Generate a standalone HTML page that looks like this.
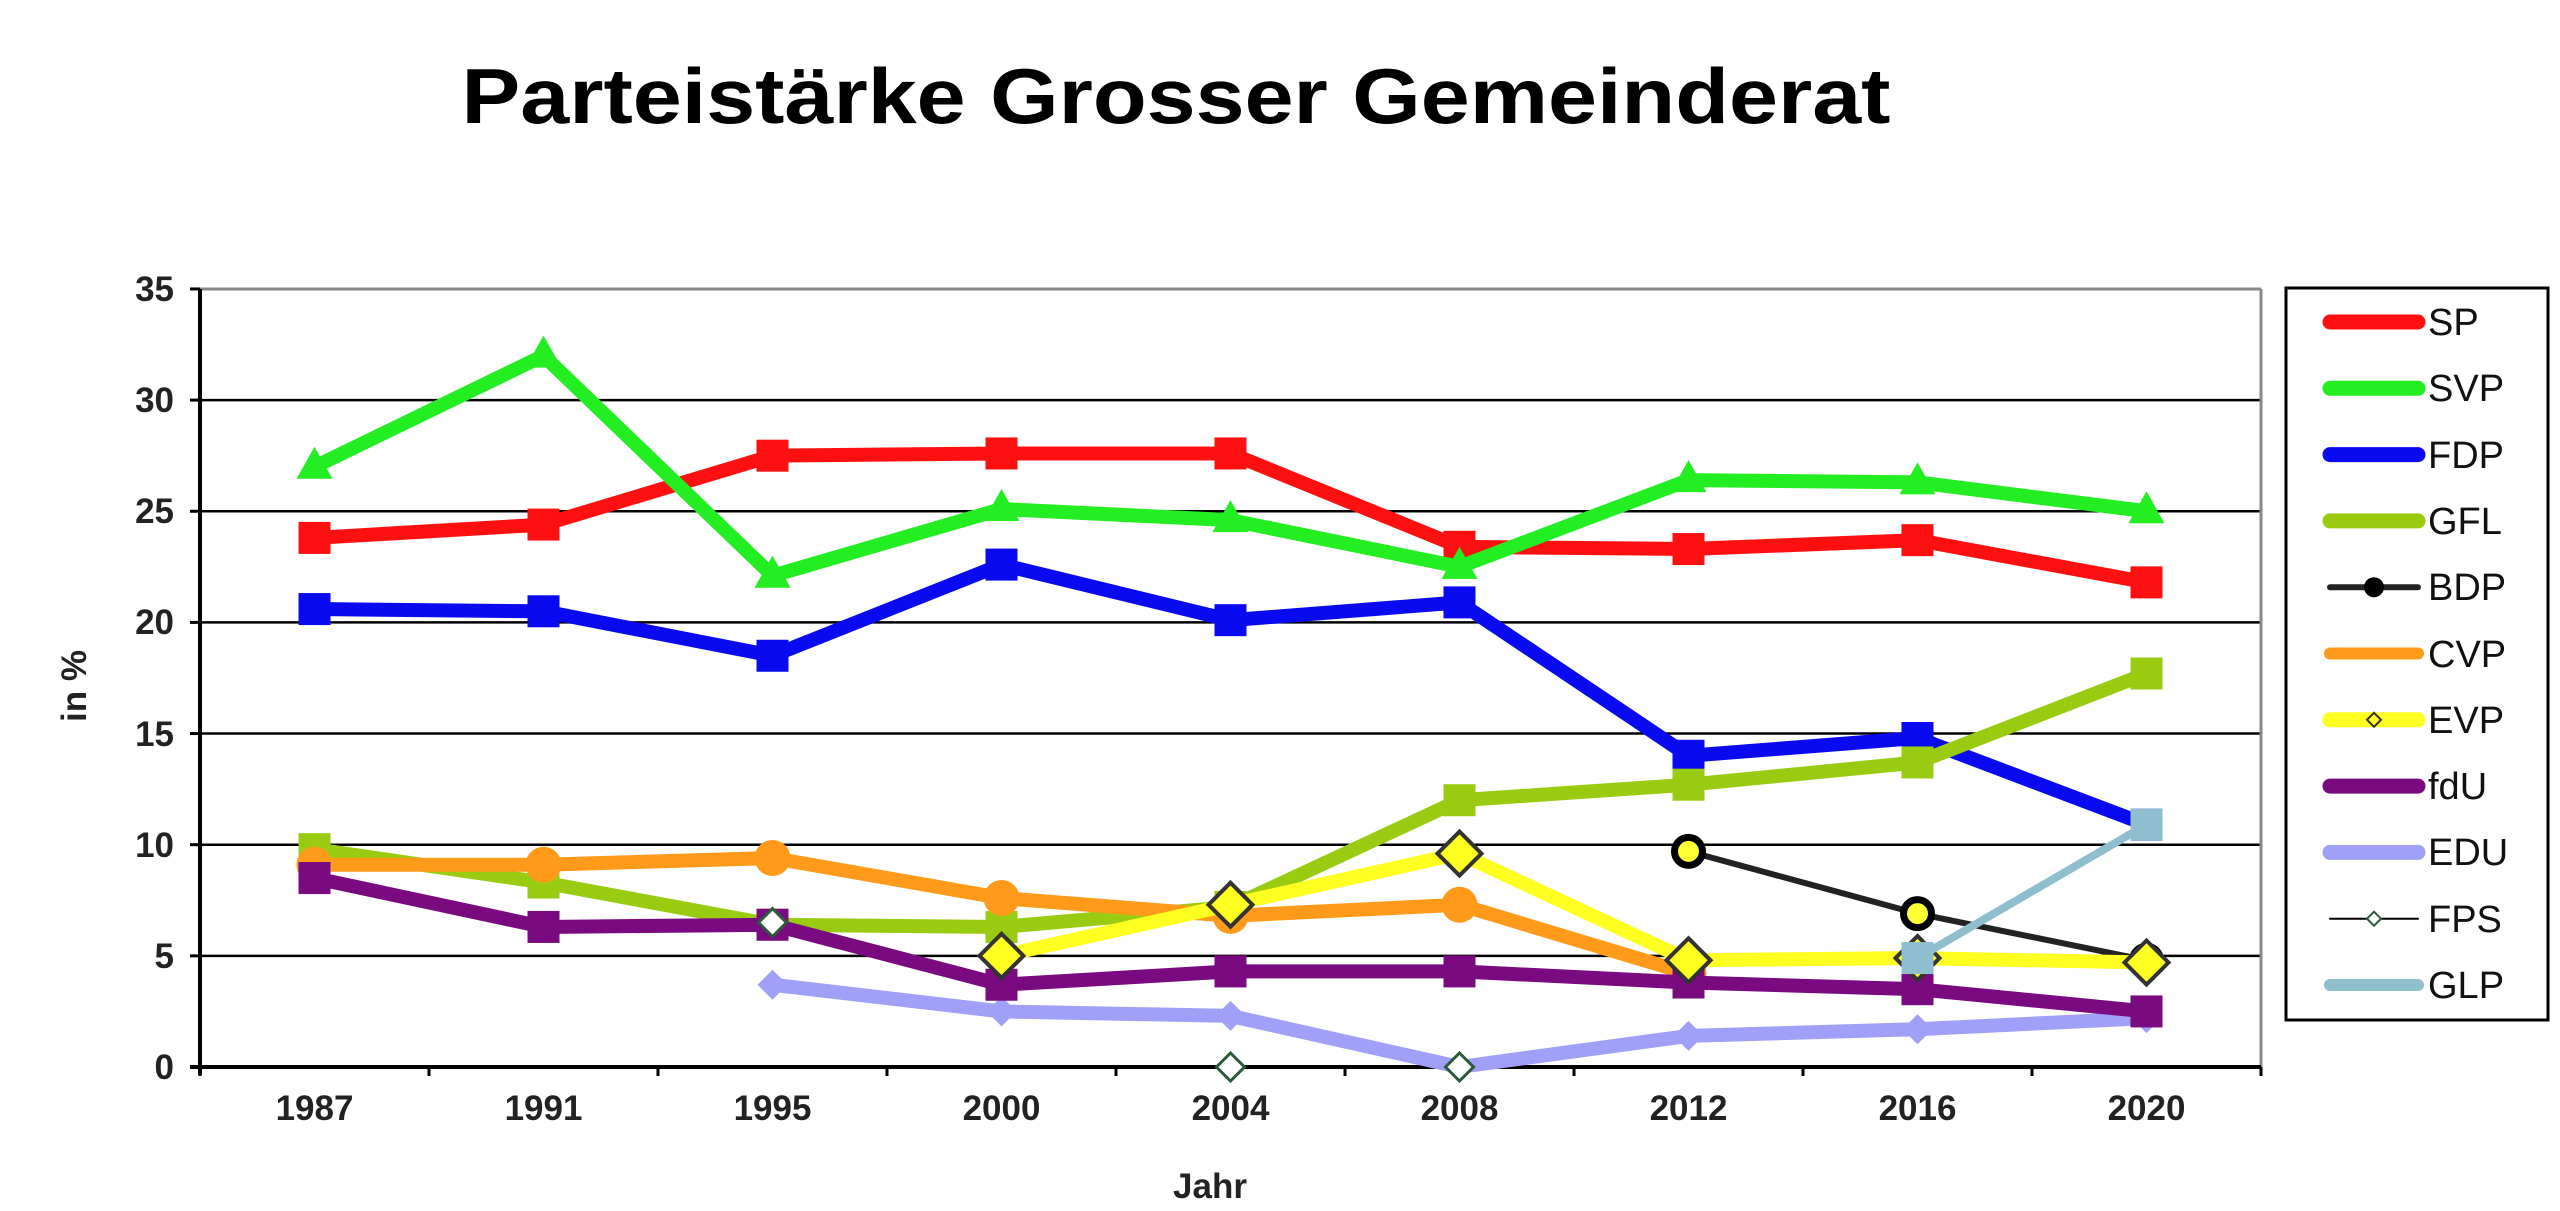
<!DOCTYPE html>
<html><head><meta charset="utf-8"><style>
html,body{margin:0;padding:0;background:#fff;}
svg{display:block;font-family:"Liberation Sans",Arial,sans-serif;}
</style></head><body>
<svg id="s" width="2560" height="1211" viewBox="0 0 2560 1211" xmlns="http://www.w3.org/2000/svg">
<rect width="2560" height="1211" fill="#fff"/>
<text x="1176" y="123" text-anchor="middle" font-size="78" font-weight="bold" textLength="1429" lengthAdjust="spacingAndGlyphs">Parteistärke Grosser Gemeinderat</text>
<g id="grid"></g>
<g font-size="35" font-weight="bold" text-anchor="end" fill="#222">
<text x="174" y="301">35</text>
<text x="174" y="412">30</text><text x="174" y="523">25</text><text x="174" y="634">20</text>
<text x="174" y="746">15</text><text x="174" y="857">10</text><text x="174" y="968">5</text><text x="174" y="1079">0</text>
</g>
<g font-size="35" font-weight="bold" text-anchor="middle" fill="#222">
<text x="314.5" y="1120">1987</text><text x="543.5" y="1120">1991</text><text x="772.5" y="1120">1995</text>
<text x="1001.5" y="1120">2000</text><text x="1230.5" y="1120">2004</text><text x="1459.5" y="1120">2008</text>
<text x="1688.5" y="1120">2012</text><text x="1917.5" y="1120">2016</text><text x="2146.5" y="1120">2020</text>
<text x="1210" y="1198">Jahr</text>
<text transform="translate(86,686) rotate(-90)">in %</text>
</g>
<g id="series"></g>
<rect x="2286" y="288" width="262" height="732" fill="none" stroke="#000" stroke-width="3"/>
<g id="leg"></g>
<g font-size="38" fill="#111">
<text x="2428" y="335">SP</text><text x="2428" y="401">SVP</text><text x="2428" y="468">FDP</text>
<text x="2428" y="534">GFL</text><text x="2428" y="600">BDP</text><text x="2428" y="667">CVP</text>
<text x="2428" y="733">EVP</text><text x="2428" y="799">fdU</text><text x="2428" y="865">EDU</text>
<text x="2428" y="932">FPS</text><text x="2428" y="998">GLP</text>
</g>
</svg>
<script>
const NS="http://www.w3.org/2000/svg";
const X=i=>314.5+229*i, Y=v=>1067-22.23*v;
function el(p,t,a){const e=document.createElementNS(NS,t);for(const k in a)e.setAttribute(k,a[k]);p.appendChild(e);return e;}
const g=document.getElementById('grid');
for(let v=5;v<=30;v+=5)el(g,'line',{x1:200,x2:2261,y1:Y(v),y2:Y(v),stroke:'#000','stroke-width':2.5});
el(g,'line',{x1:200,x2:2261,y1:Y(35),y2:Y(35),stroke:'#888','stroke-width':3});
el(g,'line',{x1:2261,x2:2261,y1:Y(35),y2:Y(0),stroke:'#888','stroke-width':3});
el(g,'line',{x1:200,x2:200,y1:Y(35),y2:Y(0)+8,stroke:'#000','stroke-width':4});
el(g,'line',{x1:190,x2:2261,y1:Y(0),y2:Y(0),stroke:'#000','stroke-width':4});
for(let v=0;v<=35;v+=5)el(g,'line',{x1:190,x2:200,y1:Y(v),y2:Y(v),stroke:'#000','stroke-width':3});
for(let i=0;i<=9;i++)el(g,'line',{x1:200+229*i,x2:200+229*i,y1:Y(0),y2:Y(0)+9,stroke:'#000','stroke-width':3});
const N=null;
const S=[
 ['SP','#ff1010','sq',[23.8,24.4,27.5,27.6,27.6,23.4,23.3,23.7,21.8],14],
 ['SVP','#22ee22','tri',[27.0,32.0,22.1,25.1,24.6,22.5,26.4,26.3,25.0],14],
 ['FDP','#0a0af0','sq',[20.6,20.5,18.5,22.6,20.1,20.9,14.0,14.8,10.9],14],
 ['GFL','#99cc11','sq',[9.8,8.3,6.4,6.3,7.2,12.0,12.7,13.7,17.7],14],
 ['CVP','#ff9a1a','circ',[9.1,9.1,9.4,7.6,6.8,7.3,4.2,N,N],14],
 ['BDP','#222','bdp',[N,N,N,N,N,N,9.7,6.9,4.8],6],
 ['EDU','#a0a0f8','dia',[N,N,3.7,2.5,2.3,0.0,1.4,1.7,2.2],14],
 ['fdU','#7a0a80','sq',[8.5,6.3,6.4,3.7,4.3,4.3,3.8,3.5,2.5],14],
 ['EVP','#ffff22','evp',[N,N,N,5.0,7.3,9.6,4.8,4.9,4.7],14],
 ['GLP','#8fbfcf','sq',[N,N,N,N,N,N,N,4.9,10.9],8],
 ['FPS','#000','fps',[N,N,6.5,N,0,0,N,N,N],0],
];
const sg=document.getElementById('series');
function marker(p,type,c,x,y){
 if(type==='sq')el(p,'rect',{x:x-16,y:y-16,width:32,height:32,fill:c});
 else if(type==='tri')el(p,'polygon',{points:`${x},${y-20} ${x+18},${y+12} ${x-18},${y+12}`,fill:c});
 else if(type==='circ')el(p,'circle',{cx:x,cy:y,r:18,fill:c});
 else if(type==='bdp')el(p,'circle',{cx:x,cy:y,r:14,fill:'#ffff33',stroke:'#000','stroke-width':7});
 else if(type==='dia')el(p,'polygon',{points:`${x},${y-15} ${x+15},${y} ${x},${y+15} ${x-15},${y}`,fill:c});
 else if(type==='evp')el(p,'polygon',{points:`${x},${y-22} ${x+22},${y} ${x},${y+22} ${x-22},${y}`,fill:c,stroke:'#333','stroke-width':4});
 else if(type==='fps')el(p,'polygon',{points:`${x},${y-14} ${x+14},${y} ${x},${y+14} ${x-14},${y}`,fill:'#fff',stroke:'#2a5a3a','stroke-width':3});
}
for(const [n,c,t,d,w] of S){
 if(w>0){let pts=[];d.forEach((v,i)=>{if(v!==null)pts.push(X(i)+','+Y(v));});
  el(sg,'polyline',{points:pts.join(' '),fill:'none',stroke:c,'stroke-width':w,'stroke-linejoin':'round'});}
 d.forEach((v,i)=>{if(v!==null)marker(sg,t,c,X(i),Y(v));});
}
const lg=document.getElementById('leg');
const L=[['#ff1010',15,'n'],['#22ee22',15,'n'],['#0a0af0',15,'n'],['#99cc11',15,'n'],['#222',6,'b'],['#ff9a1a',12,'n'],['#ffff22',15,'e'],['#7a0a80',15,'n'],['#a0a0f8',15,'n'],['#000',2,'f'],['#8fbfcf',12,'n']];
L.forEach(([c,w,m],k)=>{const y=322+66.3*k;
 el(lg,'line',{x1:2330,x2:2418,y1:y,y2:y,stroke:c,'stroke-width':w,'stroke-linecap':'round'});
 if(m==='b')el(lg,'circle',{cx:2374,cy:y,r:10,fill:'#000'});
 if(m==='e')el(lg,'polygon',{points:`2374,${y-7} 2381,${y} 2374,${y+7} 2367,${y}`,fill:'#ffff22',stroke:'#333','stroke-width':2});
 if(m==='f')el(lg,'polygon',{points:`2374,${y-7} 2381,${y} 2374,${y+7} 2367,${y}`,fill:'#fff',stroke:'#2a5a3a','stroke-width':2});
});
</script>
</body></html>
